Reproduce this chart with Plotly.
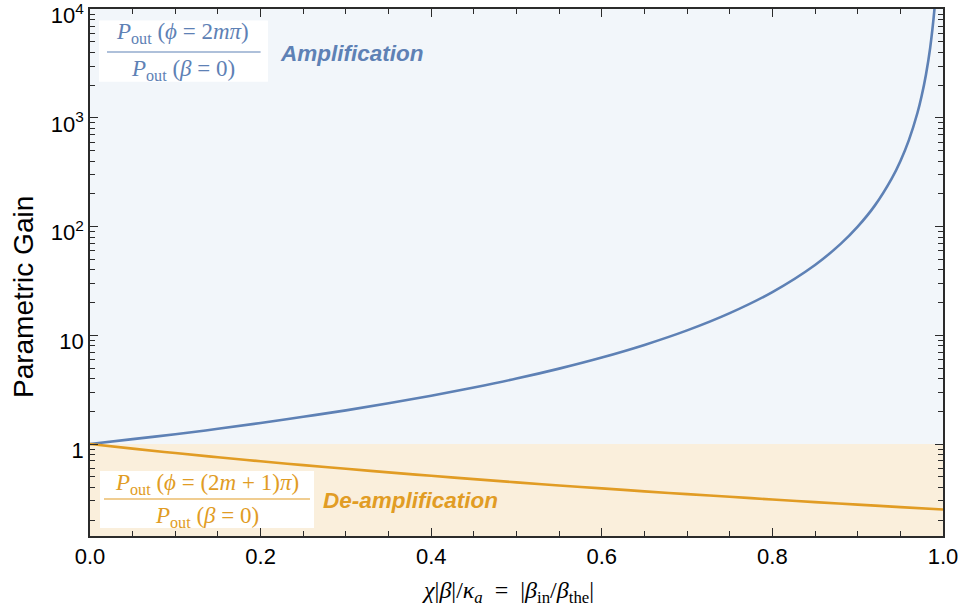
import plotly.graph_objects as go

# Normalised pump amplitude (x) and measured gain curves
x_amp = [0, 0.05, 0.1, 0.15, 0.2, 0.25, 0.3, 0.35, 0.4, 0.45, 0.5, 0.55, 0.6, 0.65,
         0.7, 0.75, 0.8, 0.85, 0.88, 0.9, 0.92, 0.94, 0.95, 0.96, 0.97, 0.975, 0.98,
         0.985, 0.99, 0.993]
gain_amp = [1.00, 1.11, 1.23, 1.38, 1.56, 1.78, 2.04, 2.37, 2.78, 3.31, 4.0, 4.94, 6.25,
            8.16, 11.1, 16.0, 25.0, 44.4, 69.4, 100, 156, 278, 400, 625, 1110, 1600,
            2500, 4440, 10000, 20400]

x_deamp = [0, 0.05, 0.1, 0.15, 0.2, 0.25, 0.3, 0.35, 0.4, 0.45, 0.5, 0.55, 0.6, 0.65,
           0.7, 0.75, 0.8, 0.85, 0.9, 0.95, 1.0]
gain_deamp = [1.00, 0.907, 0.826, 0.756, 0.694, 0.640, 0.592, 0.549, 0.510, 0.476, 0.444,
              0.416, 0.391, 0.367, 0.346, 0.327, 0.309, 0.292, 0.277, 0.263, 0.250]

y_tickvals = [1, 10, 100, 1000, 10000]
y_ticktext = ["1", "10", "10<sup>2</sup>", "10<sup>3</sup>", "10<sup>4</sup>"]
x_tickvals = [0.0, 0.2, 0.4, 0.6, 0.8, 1.0]
x_ticktext = ["0.0", "0.2", "0.4", "0.6", "0.8", "1.0"]
x_minor = [round(0.05 * i, 2) for i in range(21) if i % 4]

BLUE = "#5e81b5"
ORANGE = "#e19c24"
FRAME = "#2b2b2b"

y_lo, y_hi = -0.846, 4.002  # log10 range
f_one = (0 - y_lo) / (y_hi - y_lo)  # paper height of gain = 1

y_minor = [m * 10 ** d for d in range(-1, 4) for m in range(2, 10)]
y_minor = [v for v in y_minor if 10 ** y_lo <= v <= 10 ** y_hi]

fig = go.Figure()
fig.add_trace(go.Scatter(x=x_amp, y=gain_amp, mode="lines",
                         line=dict(color=BLUE, width=2.6, shape="spline"),
                         showlegend=False, hoverinfo="skip"))
fig.add_trace(go.Scatter(x=x_deamp, y=gain_deamp, mode="lines",
                         line=dict(color=ORANGE, width=2.6, shape="spline"),
                         showlegend=False, hoverinfo="skip"))
# empty trace that carries the minor-tick axes
fig.add_trace(go.Scatter(x=[None], y=[None], xaxis="x2", yaxis="y2", mode="lines",
                         showlegend=False, hoverinfo="skip"))

shapes = [
    dict(type="rect", xref="paper", yref="paper", x0=0, x1=1, y0=f_one, y1=1,
         fillcolor="#f2f6fa", line=dict(width=0), layer="below"),
    dict(type="rect", xref="paper", yref="paper", x0=0, x1=1, y0=0, y1=f_one,
         fillcolor="#faefdc", line=dict(width=0), layer="below"),
    # white label boxes
    dict(type="rect", xref="paper", yref="paper", x0=0.0106, x1=0.2086, y0=0.862, y1=0.978,
         fillcolor="white", line=dict(width=0), layer="above"),
    dict(type="rect", xref="paper", yref="paper", x0=0.0117, x1=0.2626, y0=0.0152, y1=0.1233,
         fillcolor="white", line=dict(width=0), layer="above"),
    # fraction bars
    dict(type="line", xref="paper", yref="paper", x0=0.0199, x1=0.2000, y0=0.9184, y1=0.9184,
         line=dict(color=BLUE, width=1.2), layer="above"),
    dict(type="line", xref="paper", yref="paper", x0=0.0164, x1=0.2579, y0=0.0702, y1=0.0702,
         line=dict(color=ORANGE, width=1.2), layer="above"),
]

serif = "Liberation Serif"
sans = "Liberation Sans"
ann = []


def txt(x, y, s, color, size=23, family=serif, xanchor="center", angle=0):
    ann.append(dict(x=x, y=y, xref="paper", yref="paper", text=s, showarrow=False,
                    textangle=angle, font=dict(family=family, size=size, color=color),
                    xanchor=xanchor, yanchor="middle"))


txt(0.109, 0.955, "<i>P</i><sub>out</sub> (<i>ϕ</i> = 2<i>mπ</i>)", BLUE)
txt(0.109, 0.884, "<i>P</i><sub>out</sub> (<i>β</i> = 0)", BLUE)
txt(0.137, 0.099, "<i>P</i><sub>out</sub> (<i>ϕ</i> = (2<i>m</i> + 1)<i>π</i>)", ORANGE)
txt(0.137, 0.036, "<i>P</i><sub>out</sub> (<i>β</i> = 0)", ORANGE)
txt(0.2204, 0.9165, "<b><i>Amplification</i></b>", BLUE, size=22.5, family=sans, xanchor="left")
txt(0.2708, 0.0683, "<b><i>De-amplification</i></b>", ORANGE, size=22.5, family=sans, xanchor="left")
txt(-0.0785, 0.4535, "Parametric Gain", "black", size=28, family=sans, angle=-90)
txt(0.49, -0.106,
    "<i>χ</i>|<i>β</i>|/<i>κ</i><sub><i>a</i></sub>&nbsp;&nbsp;=&nbsp;&nbsp;|<i>β</i><sub>in</sub>/<i>β</i><sub>the</sub>|",
    "black", size=24)

common = dict(ticks="inside", tickcolor=FRAME, showgrid=False, zeroline=False, automargin=False)

fig.update_layout(
    width=968, height=614,
    margin=dict(l=90, r=25, t=9, b=78),
    plot_bgcolor="white", paper_bgcolor="white",
    font=dict(family=sans, size=22, color="black"),
    shapes=shapes, annotations=ann,
    xaxis=dict(range=[0, 1], tickvals=x_tickvals, ticktext=x_ticktext, ticklen=8, tickwidth=1.3,
               showline=True, linecolor=FRAME, linewidth=1.5, mirror="ticks",
               ticklabeloverflow="allow", **common),
    xaxis2=dict(range=[0, 1], overlaying="x", anchor="y2", tickvals=x_minor, ticklen=5,
                tickwidth=1.2, showticklabels=False, showline=False, mirror="ticks", **common),
    yaxis=dict(type="log", range=[y_lo, y_hi], tickvals=y_tickvals, ticktext=y_ticktext,
               ticklen=8, tickwidth=1.3, showline=True, linecolor=FRAME, linewidth=1.5,
               mirror="ticks", ticklabeloverflow="allow", ticklabelshift=6, **common),
    yaxis2=dict(type="log", range=[y_lo, y_hi], overlaying="y", anchor="x2", tickvals=y_minor,
                ticklen=5, tickwidth=1.2, showticklabels=False, showline=False, mirror="ticks",
                **common),
)

fig.write_html("out.html")
